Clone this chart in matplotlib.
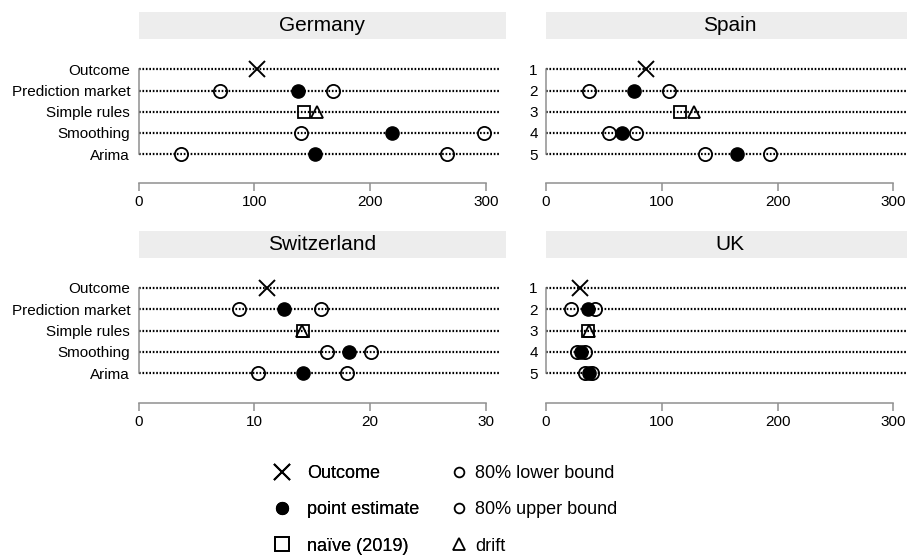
import matplotlib
matplotlib.use('Agg')
import matplotlib.pyplot as plt
from matplotlib.lines import Line2D
from matplotlib.patches import Rectangle

plt.rcParams['font.family'] = ['Liberation Sans', 'DejaVu Sans']

countries = ["Germany", "Spain", "Switzerland", "UK"]
methods = ["Outcome", "Prediction market", "Simple rules", "Smoothing", "Arima"]
row_numbers = ["1", "2", "3", "4", "5"]
x_max = [300, 300, 30, 300]

outcome = [102, 86, 11.1, 29]
pm_lower = [70, 37, 8.7, 22]
pm_point = [138, 76, 12.6, 36]
pm_upper = [168, 106, 15.8, 42]
naive = [143, 116, 14.2, 36]
drift = [154, 128, 14.1, 37.5]
sm_lower = [140, 54, 16.3, 27]
sm_point = [219, 66, 18.2, 30]
sm_upper = [298, 78, 20.1, 34]
ar_lower = [37, 137, 10.3, 34]
ar_point = [152, 165, 14.2, 37]
ar_upper = [266, 193, 18.0, 40]

W, H = 907, 557
fig = plt.figure(figsize=(W / 100, H / 100), dpi=100)

# panel boxes in pixels: left, bottom line, height
boxes = [(138.5, 183.3, 144), (546, 183.3, 144),
         (138.5, 402.7, 145), (546, 402.7, 145)]
panel_w = 367.5
spine_col = '#8f8f8f'
dot_style = (0, (0.75, 0.8))

open_kw = dict(linestyle='none', mfc='none', mec='black', mew=1.3, zorder=3)

for i, name in enumerate(countries):
    left, bottom, h = boxes[i]
    ax = fig.add_axes([left / W, (H - bottom) / H, panel_w / W, h / H])
    xm = x_max[i]
    ax.set_xlim(0, xm * 1.0577)
    ax.set_ylim(6.38, -0.42)

    for r in range(1, 6):
        ax.axhline(r, xmin=0, xmax=0.984, color='black', lw=1.6,
                   linestyle=dot_style, zorder=1)

    ax.plot([outcome[i]], [1], marker='x', ms=11, mew=1.4, color='black',
            linestyle='none', zorder=3)
    ax.plot([pm_lower[i], pm_upper[i]], [2, 2], marker='o', ms=9.5, **open_kw)
    ax.plot([sm_lower[i], sm_upper[i]], [4, 4], marker='o', ms=9.5, **open_kw)
    ax.plot([ar_lower[i], ar_upper[i]], [5, 5], marker='o', ms=9.5, **open_kw)
    ax.plot([pm_point[i], sm_point[i], ar_point[i]], [2, 4, 5], marker='o',
            ms=9.5, color='black', linestyle='none', zorder=4)
    ax.plot([naive[i]], [3], marker='s', ms=9, **open_kw)
    ax.plot([drift[i]], [3], marker='^', ms=8.5, **open_kw)

    ax.set_yticks(range(1, 6))
    ax.set_yticklabels(methods if i % 2 == 0 else row_numbers)
    ax.set_xticks([0, xm / 3, 2 * xm / 3, xm])
    ax.set_xticklabels([str(int(v)) for v in [0, xm / 3, 2 * xm / 3, xm]])
    ax.tick_params(axis='y', length=0, pad=6, labelsize=11)
    ax.tick_params(axis='x', length=5.5, width=1.1, color=spine_col,
                   pad=3, labelsize=11)
    for s in ['top', 'right']:
        ax.spines[s].set_visible(False)
    ax.spines['left'].set_bounds(1, 5)
    ax.spines['bottom'].set_bounds(0, xm)
    for s in ['left', 'bottom']:
        ax.spines[s].set_color(spine_col)
        ax.spines[s].set_linewidth(1.1)
    ax.patch.set_visible(False)

    # strip label
    sh = 27 / h
    ax.add_patch(Rectangle((0, 1), 1, sh, transform=ax.transAxes,
                           facecolor='#ededed', edgecolor='none', clip_on=False))
    ax.text(0.5, 1 + sh / 2, name, transform=ax.transAxes, ha='center',
            va='center', fontsize=15)

leg1 = [
    Line2D([], [], marker='x', ms=12, mew=1.4, color='black', linestyle='none'),
    Line2D([], [], marker='o', ms=8.5, color='black', linestyle='none'),
    Line2D([], [], marker='s', ms=9.5, mfc='none', mec='black', mew=1.3, linestyle='none'),
]
leg2 = [
    Line2D([], [], marker='o', ms=7, mfc='none', mec='black', mew=1.3, linestyle='none'),
    Line2D([], [], marker='o', ms=7, mfc='none', mec='black', mew=1.3, linestyle='none'),
    Line2D([], [], marker='^', ms=8.5, mfc='none', mec='black', mew=1.3, linestyle='none'),
]
common = dict(loc='center left', frameon=False, fontsize=13, borderpad=0,
              borderaxespad=0, handlelength=1.4, labelspacing=1.06)
l1 = fig.legend(leg1, ["Outcome", "point estimate", "naïve (2019)"],
                bbox_to_anchor=(269.4 / W, (H - 510) / H),
                handletextpad=0.69, **common)
fig.add_artist(l1)
fig.legend(leg2, ["80% lower bound", "80% upper bound", "drift"],
           bbox_to_anchor=(446.4 / W, (H - 510) / H),
           handletextpad=0.19, **common)

plt.savefig('out.png', dpi=100)
